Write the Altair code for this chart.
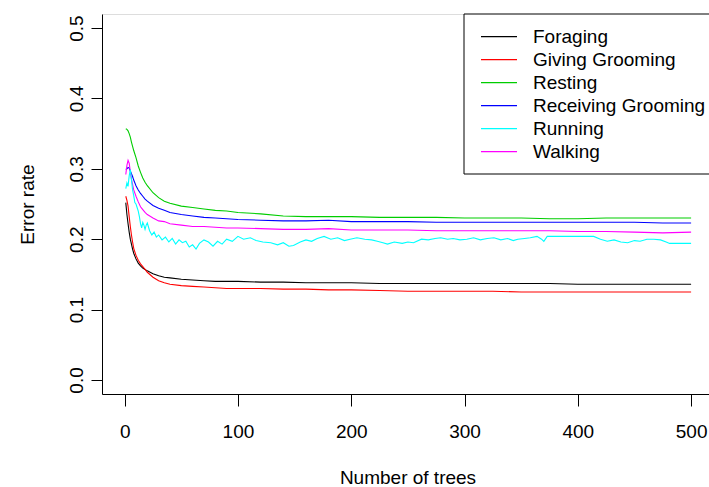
import altair as alt
import pandas as pd

# ---- data ----
trees = [1, 2, 3, 4, 5, 6, 7, 8, 10, 12, 14, 16, 18, 20, 25, 30, 35, 40, 50, 60,
         70, 80, 90, 100, 120, 140, 160, 180, 200, 225, 250, 275, 300, 325, 350,
         375, 400, 425, 450, 475, 500]

foraging = [0.252, 0.235, 0.222, 0.210, 0.200, 0.193, 0.186, 0.180, 0.172, 0.166,
            0.162, 0.159, 0.157, 0.155, 0.151, 0.148, 0.146, 0.145, 0.143, 0.142,
            0.141, 0.140, 0.140, 0.140, 0.139, 0.139, 0.138, 0.138, 0.138, 0.137,
            0.137, 0.137, 0.137, 0.137, 0.137, 0.137, 0.136, 0.136, 0.136, 0.136,
            0.136]
giving_grooming = [0.261, 0.255, 0.247, 0.232, 0.218, 0.206, 0.196, 0.187, 0.177, 0.170,
                   0.165, 0.161, 0.157, 0.153, 0.146, 0.141, 0.138, 0.136, 0.134, 0.133,
                   0.132, 0.131, 0.130, 0.130, 0.130, 0.129, 0.129, 0.128, 0.128, 0.127,
                   0.126, 0.126, 0.126, 0.126, 0.125, 0.125, 0.125, 0.125, 0.125, 0.125,
                   0.125]
resting = [0.357, 0.356, 0.354, 0.350, 0.345, 0.338, 0.332, 0.326, 0.316, 0.304,
           0.295, 0.287, 0.281, 0.276, 0.266, 0.259, 0.254, 0.251, 0.247, 0.245,
           0.243, 0.241, 0.240, 0.238, 0.236, 0.233, 0.232, 0.232, 0.232, 0.231,
           0.231, 0.231, 0.230, 0.230, 0.230, 0.229, 0.229, 0.230, 0.230, 0.230,
           0.230]
receiving_grooming = [0.299, 0.300, 0.302, 0.301, 0.297, 0.293, 0.289, 0.284, 0.276, 0.270,
                      0.265, 0.261, 0.257, 0.254, 0.248, 0.244, 0.241, 0.238, 0.235, 0.233,
                      0.231, 0.230, 0.229, 0.228, 0.227, 0.226, 0.226, 0.227, 0.225, 0.225,
                      0.225, 0.224, 0.224, 0.224, 0.224, 0.224, 0.224, 0.224, 0.224, 0.223,
                      0.223]
walking = [0.292, 0.305, 0.312, 0.308, 0.296, 0.285, 0.278, 0.270, 0.261, 0.253,
           0.246, 0.242, 0.238, 0.235, 0.230, 0.226, 0.225, 0.222, 0.220, 0.218,
           0.218, 0.217, 0.216, 0.216, 0.215, 0.214, 0.214, 0.215, 0.213, 0.213,
           0.213, 0.212, 0.212, 0.212, 0.212, 0.212, 0.211, 0.211, 0.210, 0.209,
           0.210]

running_trees = [1, 2, 3, 4, 5, 6, 7, 8, 9, 10, 11, 12, 13, 14, 15, 16, 17, 18, 19, 20,
                 22, 24, 26, 28, 30, 33, 36, 39, 42, 45, 48, 51, 54, 57, 60, 63, 66, 70,
                 74, 78, 82, 86, 90, 95, 100, 105, 111, 116, 122, 129, 135, 140, 145, 149,
                 155, 160, 165, 170, 176, 182, 188, 194, 199, 205, 212, 218, 223, 228, 232,
                 238, 245, 250, 255, 262, 268, 274, 279, 285, 290, 296, 302, 308, 314, 320,
                 326, 332, 338, 343, 347, 353, 358, 364, 368, 370, 373, 414, 420, 426, 432,
                 438, 444, 450, 455, 461, 467, 473, 478, 481, 500]
running = [0.272, 0.280, 0.275, 0.290, 0.299, 0.285, 0.270, 0.262, 0.252, 0.250,
           0.245, 0.240, 0.232, 0.222, 0.216, 0.224, 0.220, 0.214, 0.220, 0.223,
           0.212, 0.206, 0.210, 0.203, 0.206, 0.199, 0.203, 0.196, 0.201, 0.193,
           0.199, 0.195, 0.197, 0.189, 0.192, 0.186, 0.194, 0.199, 0.196, 0.190,
           0.197, 0.193, 0.200, 0.197, 0.204, 0.200, 0.202, 0.198, 0.196, 0.195,
           0.192, 0.195, 0.190, 0.191, 0.196, 0.199, 0.197, 0.201, 0.204, 0.200,
           0.202, 0.198, 0.200, 0.202, 0.200, 0.199, 0.197, 0.195, 0.193, 0.196,
           0.194, 0.196, 0.195, 0.200, 0.199, 0.201, 0.202, 0.200, 0.201, 0.199,
           0.200, 0.202, 0.199, 0.201, 0.202, 0.199, 0.201, 0.198, 0.200, 0.201,
           0.202, 0.204, 0.200, 0.197, 0.204, 0.204, 0.200, 0.197, 0.199, 0.196,
           0.195, 0.198, 0.197, 0.200, 0.200, 0.199, 0.196, 0.194, 0.194]

series_names = ["Foraging", "Giving Grooming", "Resting", "Receiving Grooming",
                "Running", "Walking"]
series_colors = ["#000000", "#FF0000", "#00CD00", "#0000FF", "#00FFFF", "#FF00FF"]

x_ticks = [0, 100, 200, 300, 400, 500]
y_ticks = [0.0, 0.1, 0.2, 0.3, 0.4, 0.5]

rows = []
for name, vals in [("Foraging", foraging), ("Giving Grooming", giving_grooming),
                   ("Resting", resting), ("Receiving Grooming", receiving_grooming),
                   ("Walking", walking)]:
    for t, v in zip(trees, vals):
        rows.append({"trees": t, "error": v, "class": name})
for t, v in zip(running_trees, running):
    rows.append({"trees": t, "error": v, "class": "Running"})
df = pd.DataFrame(rows)
df["order"] = df["class"].map({n: i for i, n in enumerate(series_names)})

legend_df = pd.DataFrame({"class": series_names, "row": list(range(len(series_names)))})

FONT = "Liberation Sans"
FS = 19

color_enc = alt.Color("class:N",
                      scale=alt.Scale(domain=series_names, range=series_colors),
                      legend=None)

lines = alt.Chart(df).mark_line(strokeWidth=1.1, clip=True).encode(
    x=alt.X("trees:Q",
            scale=alt.Scale(domain=[-20, 515.8], nice=False, zero=False),
            axis=alt.Axis(values=x_ticks, title="Number of trees", grid=False,
                          tickSize=12, labelPadding=31, labelBaseline="alphabetic",
                          labelFontSize=FS, labelFont=FONT, labelColor="#000",
                          titleFont=FONT, titleFontSize=FS, titleFontWeight="normal",
                          titleColor="#000", titleX=305.5, titleY=89,
                          titleBaseline="alphabetic", titleAnchor="start",
                          titleAlign="center",
                          domainColor="#000", tickColor="#000",
                          labelFlush=False, labelOverlap=False)),
    y=alt.Y("error:Q",
            scale=alt.Scale(domain=[-0.02, 0.52], nice=False, zero=False),
            axis=alt.Axis(values=y_ticks, format=".1f", title="Error rate", grid=False,
                          tickSize=11, labelPadding=9, labelAngle=270,
                          labelAlign="center", labelBaseline="alphabetic",
                          labelFontSize=FS, labelFont=FONT, labelColor="#000",
                          titleFont=FONT, titleFontSize=FS, titleFontWeight="normal",
                          titleColor="#000", titleAngle=270, titleX=-69, titleY=190,
                          titleBaseline="alphabetic", titleAlign="center",
                          domainColor="#000", tickColor="#000",
                          labelFlush=False, labelOverlap=False)),
    color=color_enc,
    order=alt.Order("order:Q"),
    detail="class:N",
)

# legend box (drawn like R's legend(): white box with black border)
legend_box = alt.Chart(legend_df).mark_rect(
    fill="#FFFFFF", stroke="#000000", strokeWidth=1
).encode(
    x=alt.value(362), x2=alt.value(640), y=alt.value(0), y2=alt.value(160)
).transform_filter("datum.row == 0")

legend_base = alt.Chart(legend_df).transform_calculate(
    ypix="22.7 + 23 * datum.row"
)

legend_lines = legend_base.mark_rule(strokeWidth=1.2).encode(
    x=alt.value(379), x2=alt.value(415),
    y=alt.Y("ypix:Q", scale=None, axis=None),
    color=color_enc,
)

legend_text = legend_base.mark_text(
    align="left", baseline="middle", font=FONT, fontSize=FS, color="#000", dy=0.5
).encode(
    x=alt.value(431),
    y=alt.Y("ypix:Q", scale=None, axis=None),
    text="class:N",
)

chart = alt.layer(lines, legend_box, legend_lines, legend_text).resolve_scale(
    y="independent"
).properties(
    width=607,
    height=380,
    autosize=alt.AutoSizeParams(type="none"),
    padding={"left": 102, "top": 14, "right": 0, "bottom": 93},
).configure_view(
    stroke="#000", strokeWidth=1
).configure(background="#FFFFFF")

chart.save("out.html", embed_options={"renderer": "svg", "actions": False})
